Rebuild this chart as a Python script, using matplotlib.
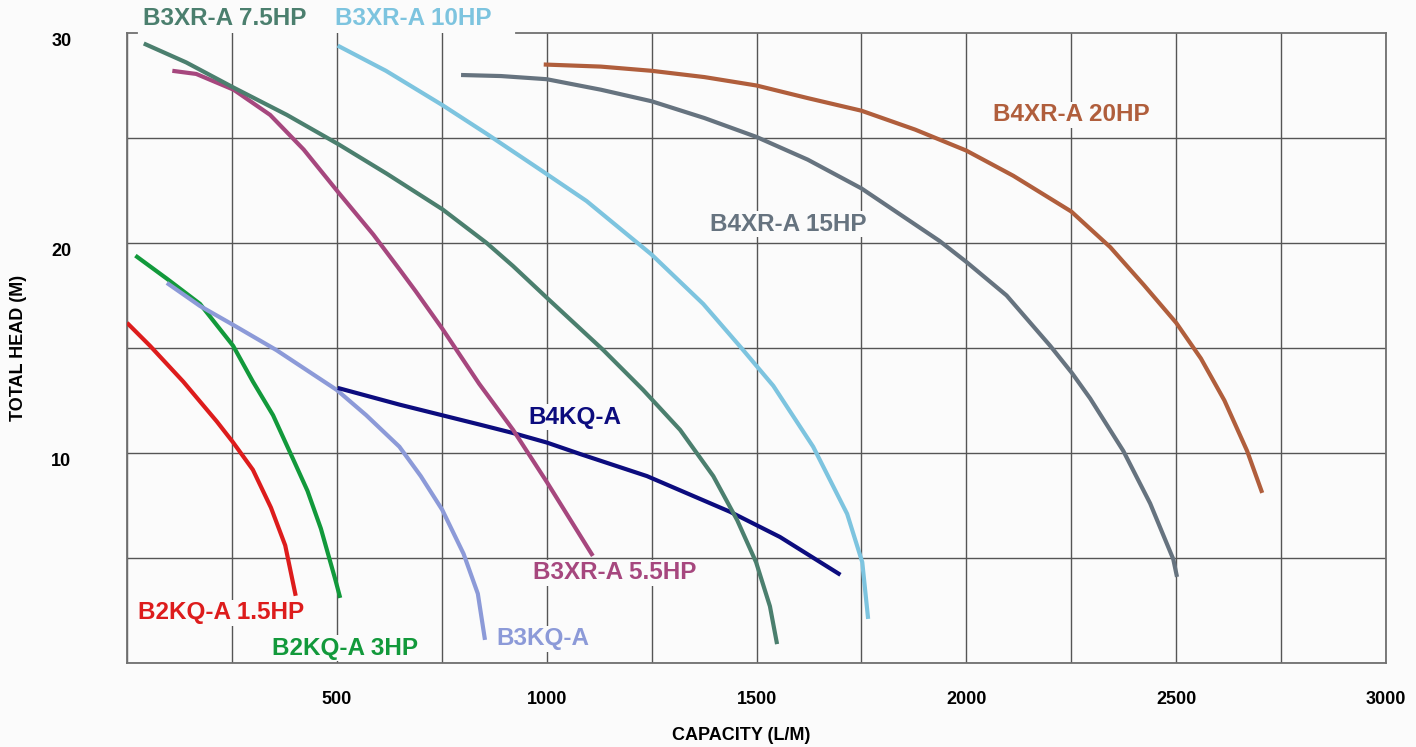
import matplotlib
matplotlib.use("Agg")
import matplotlib.pyplot as plt

plt.rcParams['font.family'] = ['Liberation Sans', 'DejaVu Sans']

# pump curves, capacity (L/M) vs total head (M)
b2kq_15_x = [0, 55, 134, 214, 253, 300, 343, 377, 402]
b2kq_15_y = [16.2, 15.1, 13.4, 11.5, 10.5, 9.2, 7.4, 5.6, 3.2]

b2kq_3_x = [20, 95, 174, 253, 300, 348, 396, 430, 462, 496, 508]
b2kq_3_y = [19.4, 18.3, 17.1, 15.1, 13.4, 11.8, 9.7, 8.2, 6.4, 4.0, 3.1]

b3kq_x = [95, 174, 253, 356, 500, 570, 649, 700, 751, 802, 836, 853]
b3kq_y = [18.1, 17.0, 16.1, 14.9, 13.0, 11.8, 10.3, 8.9, 7.3, 5.2, 3.3, 1.1]

b4kq_x = [502, 650, 841, 920, 1000, 1080, 1239, 1437, 1556, 1700]
b4kq_y = [13.1, 12.3, 11.35, 10.95, 10.5, 9.95, 8.9, 7.2, 6.0, 4.2]

b3xr_55_x = [108, 165, 254, 341, 421, 504, 587, 651, 688, 752, 839, 920, 1001, 1110]
b3xr_55_y = [28.2, 28.05, 27.3, 26.1, 24.45, 22.4, 20.4, 18.7, 17.7, 15.9, 13.3, 11.1, 8.6, 5.1]

b3xr_75_x = [40, 141, 254, 381, 504, 619, 752, 857, 920, 1000, 1135, 1230, 1318, 1397, 1454, 1499, 1532, 1549]
b3xr_75_y = [29.5, 28.6, 27.4, 26.1, 24.7, 23.3, 21.6, 20.0, 18.9, 17.4, 14.9, 13.0, 11.1, 8.9, 6.8, 4.8, 2.7, 0.9]

b3xr_10_x = [502, 617, 752, 857, 984, 1095, 1250, 1373, 1464, 1540, 1635, 1716, 1752, 1766]
b3xr_10_y = [29.4, 28.2, 26.56, 25.2, 23.5, 22.0, 19.45, 17.1, 15.0, 13.2, 10.3, 7.1, 4.8, 2.1]

b4xr_15_x = [796, 891, 1000, 1129, 1250, 1376, 1500, 1622, 1750, 1936, 2000, 2096, 2200, 2252, 2295, 2374, 2438, 2493, 2502]
b4xr_15_y = [28.0, 27.95, 27.8, 27.3, 26.75, 25.95, 25.05, 23.97, 22.6, 20.1, 19.1, 17.5, 15.1, 13.8, 12.6, 10.1, 7.6, 4.95, 4.1]

b4xr_20_x = [993, 1129, 1250, 1376, 1500, 1622, 1750, 1878, 2000, 2112, 2250, 2343, 2423, 2500, 2559, 2615, 2669, 2705]
b4xr_20_y = [28.5, 28.4, 28.2, 27.9, 27.5, 26.9, 26.3, 25.4, 24.4, 23.2, 21.5, 19.8, 18.0, 16.2, 14.5, 12.5, 10.1, 8.1]

curves = [
    (b2kq_15_x, b2kq_15_y, "#dd1c1c", "B2KQ-A 1.5HP", (26, 2.4)),
    (b2kq_3_x, b2kq_3_y, "#12993b", "B2KQ-A 3HP", (346, 0.7)),
    (b3kq_x, b3kq_y, "#8c9ad8", "B3KQ-A", (879, 1.15)),
    (b4kq_x, b4kq_y, "#0c0c7e", "B4KQ-A", (956, 11.7)),
    (b3xr_55_x, b3xr_55_y, "#a6477e", "B3XR-A 5.5HP", (967, 4.3)),
    (b3xr_75_x, b3xr_75_y, "#4b7f6e", "B3XR-A 7.5HP", (38, 30.7)),
    (b3xr_10_x, b3xr_10_y, "#7dc4df", "B3XR-A 10HP", (496, 30.7)),
    (b4xr_15_x, b4xr_15_y, "#66737f", "B4XR-A 15HP", (1389, 20.9)),
    (b4xr_20_x, b4xr_20_y, "#b05e3c", "B4XR-A 20HP", (2064, 26.1)),
]

bg = "#fbfbfb"
grid_col = "#555555"

fig = plt.figure(figsize=(14.16, 7.47), dpi=100, facecolor=bg)
ax = fig.add_axes([127 / 1416, 84 / 747, 1259 / 1416, 630 / 747])
ax.set_facecolor(bg)

for xs, ys, col, name, pos in curves:
    ax.plot(xs, ys, color=col, linewidth=3.0, solid_capstyle="butt",
            solid_joinstyle="round", zorder=3)
    ax.text(pos[0], pos[1], name, color=col, fontsize=17.5, fontweight="bold",
            ha="left", va="center", zorder=4, clip_on=False,
            bbox=dict(fc=bg, ec="none", pad=1.0))

ax.set_xlim(0, 3000)
ax.set_ylim(0, 30)

xticks = list(range(0, 3001, 250))
ax.set_xticks(xticks)
ax.set_xticklabels([str(v) if v % 500 == 0 and v > 0 else "" for v in xticks])
yticks = list(range(0, 31, 5))
ax.set_yticks(yticks)
ax.set_yticklabels([str(v) if v % 10 == 0 and v > 0 else "" for v in yticks])

ax.grid(True, color=grid_col, linewidth=1.0)
ax.set_axisbelow(True)
ax.yaxis.get_gridlines()[-1].set_visible(False)

ax.tick_params(axis="both", length=0, labelsize=13)
ax.tick_params(axis="x", pad=20)
ax.tick_params(axis="y", pad=40)
for lab in ax.get_xticklabels():
    lab.set_fontweight("bold")
for lab in ax.get_yticklabels():
    lab.set_fontweight("bold")
    lab.set_verticalalignment("top")

for side in ["left", "bottom", "right"]:
    ax.spines[side].set_color("#707070")
    ax.spines[side].set_linewidth(1.3)
ax.spines["top"].set_visible(False)
# top border is broken where the two upper labels sit
ax.plot([0, 25], [30, 30], color="#707070", linewidth=1.3, clip_on=False, zorder=2)
ax.plot([927, 3000], [30, 30], color="#707070", linewidth=1.3, clip_on=False, zorder=2)

ax.set_xlabel("CAPACITY (L/M)", fontsize=13, fontweight="bold")
ax.set_ylabel("TOTAL HEAD (M)", fontsize=13, fontweight="bold")
ax.xaxis.set_label_coords(0.488, -0.101)
ax.yaxis.set_label_coords(-0.0794, 0.5)

plt.savefig("out.png", dpi=100, facecolor=bg)
